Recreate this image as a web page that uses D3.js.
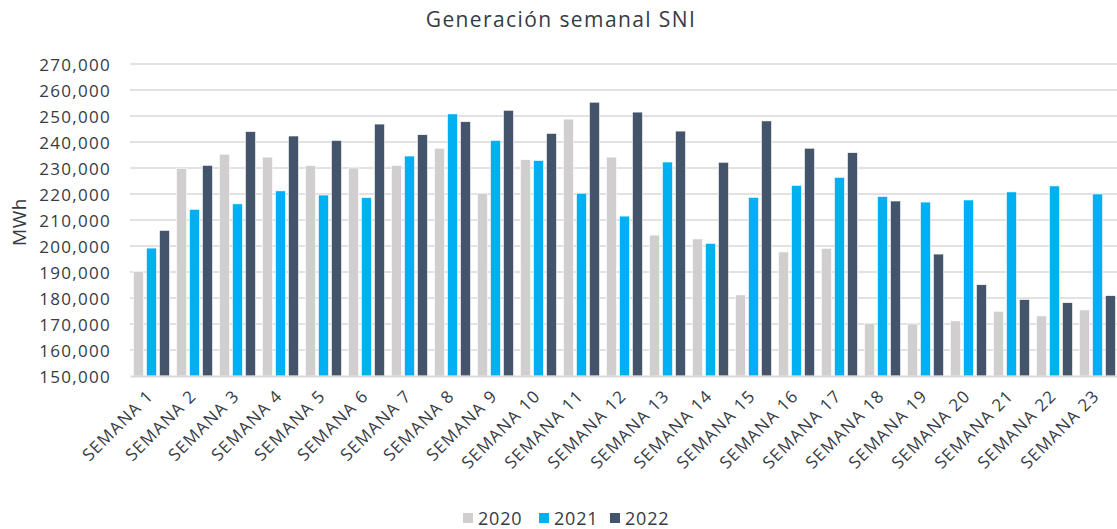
<!DOCTYPE html>
<html>
<head>
<meta charset="utf-8">
<script src="https://cdn.jsdelivr.net/npm/d3@7"></script>
<style>
  body { margin: 0; background: #fff; }
  svg text { font-family: "Open Sans", sans-serif; fill: #363a44; }
</style>
</head>
<body>
<div id="chart"></div>
<script>
const semanas = d3.range(1, 24).map(i => 'SEMANA ' + i);
const years = ['2020', '2021', '2022'];
const gen2020 = [190200, 229900, 235300, 234200, 230900, 230000, 231000, 237600, 220300, 233200, 248800, 234200,
                 204200, 202700, 181200, 197700, 199100, 170300, 170000, 171200, 174900, 173100, 175400];
const gen2021 = [199200, 214100, 216200, 221200, 219600, 218600, 234600, 250800, 240600, 232900, 220300, 211500,
                 232300, 201000, 218700, 223300, 226400, 219000, 216900, 217700, 220800, 223100, 220000];
const gen2022 = [206000, 231000, 244000, 242300, 240600, 246900, 242800, 247800, 252200, 243300, 255300, 251500,
                 244200, 232200, 248100, 237600, 235900, 217300, 196900, 185100, 179400, 178200, 180900];
const yTicks = d3.range(150000, 270001, 10000);
const colors = ['#d0cece', '#00b0f0', '#44546a'];

const width = 1117;
const height = 529;
const margin = {top: 64, right: -2, bottom: 153, left: 130};

const series = [gen2020, gen2021, gen2022];
const rows = semanas.map((s, i) => ({semana: s, values: series.map((v, k) => ({year: years[k], v: v[i]}))}));

const svg = d3.select('#chart').append('svg')
    .attr('width', width)
    .attr('height', height);

const x = d3.scaleBand()
    .domain(semanas)
    .range([margin.left, width - margin.right])
    .paddingInner(0)
    .paddingOuter(0);

const x1 = d3.scaleBand()
    .domain(years)
    .range([3.5, x.bandwidth() - 3.5])
    .paddingInner(0.23);

const y = d3.scaleLinear()
    .domain([150000, 270000])
    .range([height - margin.bottom, margin.top]);

// gridlines
svg.append('g')
  .selectAll('line')
  .data(yTicks.slice(1))
  .join('line')
    .attr('x1', margin.left)
    .attr('x2', width)
    .attr('y1', d => y(d))
    .attr('y2', d => y(d))
    .attr('stroke', '#d9d9d9')
    .attr('stroke-width', 1.5);

// bars
svg.append('g')
  .selectAll('g')
  .data(rows)
  .join('g')
    .attr('transform', d => `translate(${x(d.semana)},0)`)
  .selectAll('rect')
  .data(d => d.values)
  .join('rect')
    .attr('x', d => x1(d.year))
    .attr('width', x1.bandwidth())
    .attr('y', d => y(d.v))
    .attr('height', d => y(150000) - y(d.v))
    .attr('fill', (d, i) => colors[i])
    .attr('stroke', '#ffffff')
    .attr('stroke-width', 0.6);

// y axis
const yAxis = svg.append('g')
    .attr('transform', `translate(${margin.left},0)`)
    .call(d3.axisLeft(y).tickValues(yTicks).tickSize(0).tickPadding(19)
      .tickFormat(d3.format(',')));
yAxis.select('.domain').remove();
yAxis.selectAll('text')
    .style('font-size', '17px')
    .style('letter-spacing', '1.3px')
    .attr('dy', '0.36em');

// x axis
const xAxis = svg.append('g')
    .attr('transform', `translate(0,${y(150000)})`)
    .call(d3.axisBottom(x).tickSize(0).tickPadding(0));
xAxis.select('.domain')
    .attr('stroke', '#d9d9d9')
    .attr('stroke-width', 2);
xAxis.selectAll('text')
    .style('font-size', '17px')
    .style('letter-spacing', '1.2px')
    .attr('text-anchor', 'end')
    .attr('dy', null)
    .attr('y', 0)
    .attr('transform', 'translate(3,21) rotate(-45)');

// y label
svg.append('text')
    .attr('transform', `translate(26,${(y(150000) + y(270000)) / 2 + 2}) rotate(-90)`)
    .attr('text-anchor', 'middle')
    .style('font-size', '19px')
    .style('letter-spacing', '0.6px')
    .text('MWh');

// title
svg.append('text')
    .attr('x', 561)
    .attr('y', 27)
    .attr('text-anchor', 'middle')
    .style('font-size', '21px')
    .style('letter-spacing', '1.4px')
    .text('Generación semanal SNI');

// legend
const legendX = [463, 539, 610];
const legend = svg.append('g')
  .selectAll('g')
  .data(years)
  .join('g')
    .attr('transform', (d, i) => `translate(${legendX[i]},${513})`);
legend.append('rect')
    .attr('width', 10)
    .attr('height', 10)
    .attr('fill', (d, i) => colors[i]);
legend.append('text')
    .attr('x', 15)
    .attr('y', 11.5)
    .style('font-size', '18px')
    .style('letter-spacing', '0.8px')
    .text(d => d);
</script>
</body>
</html>
